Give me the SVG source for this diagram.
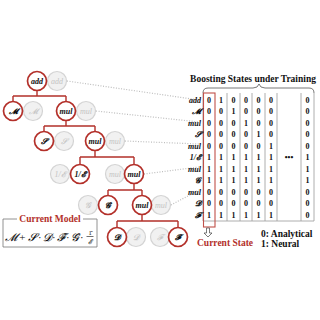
<svg xmlns="http://www.w3.org/2000/svg" width="320" height="320" viewBox="0 0 320 320">
<style>
.bg{fill:#fff}
.rn{fill:#fff;stroke:#b3302a;stroke-width:1.7}
.gn{fill:#f1f1f1;stroke:#d4d4d4;stroke-width:1.2}
.rt{font-family:"Liberation Serif","DejaVu Serif",serif;font-style:italic;font-weight:bold;font-size:8px;fill:#111;text-anchor:middle}
.gt{font-family:"Liberation Serif","DejaVu Serif",serif;font-style:italic;font-size:8px;fill:#c4c4c4;text-anchor:middle}
.edge{stroke:#b3302a;stroke-width:1.4;fill:none}
.dot{stroke:#bdbdbd;stroke-width:1.2;stroke-dasharray:1 1.6;fill:none}
.lbl{font-family:"Liberation Serif","DejaVu Serif",serif;font-style:italic;font-weight:bold;font-size:8px;fill:#111;text-anchor:end}
.num{font-family:"Liberation Serif","DejaVu Serif",serif;font-weight:bold;font-size:8px;fill:#111;text-anchor:middle}
.vl{stroke:#9a9a9a;stroke-width:0.8}
.ttl{font-family:"Liberation Serif","DejaVu Serif",serif;font-weight:bold;font-size:9.5px;fill:#111}
.red{fill:#b3302a}
</style>
<rect class="bg" width="320" height="320"/>
<g id="connectors">
<path class="edge" d="M37 90.5V96M13 96H66M13 96V101.5M66 96V101.5"/>
<path class="edge" d="M66 120.5V126M44 126H95M44 126V131.5M95 126V131.5"/>
<path class="edge" d="M95 150.5V157M80 157H134M80 157V164.5M134 157V164.5"/>
<path class="edge" d="M134 183.5V190M108 190H142M108 190V195.5M142 190V195.5"/>
<path class="edge" d="M142 214.5V221M117 221H178M117 221V227.5M178 221V227.5"/>
<path class="dot" d="M67 81L199 100"/>
<path class="dot" d="M96 111L199 122"/>
<path class="dot" d="M125 141L199 144"/>
<path class="dot" d="M144 174L199 167"/>
<path class="dot" d="M171 205L199 190"/>
</g>
<g id="n-add"><circle class="gn" cx="57" cy="81" r="9.5"/><text class="gt" x="57" y="83.5">add</text><circle class="rn" cx="37" cy="81" r="9.5"/><text class="rt" x="37" y="83.5">add</text></g>
<g id="n-M"><circle class="gn" cx="33" cy="111" r="9.5"/><text class="gt" x="33" y="114">𝓜</text><circle class="rn" cx="13" cy="111" r="9.5"/><text class="rt" x="13" y="114">𝓜</text></g>
<g id="n-mul1"><circle class="gn" cx="86" cy="111" r="9.5"/><text class="gt" x="86" y="113.5">mul</text><circle class="rn" cx="66" cy="111" r="9.5"/><text class="rt" x="66" y="113.5">mul</text></g>
<g id="n-S"><circle class="gn" cx="64" cy="141" r="9.5"/><text class="gt" x="64" y="144">𝓢</text><circle class="rn" cx="44" cy="141" r="9.5"/><text class="rt" x="44" y="144">𝓢</text></g>
<g id="n-mul2"><circle class="gn" cx="115" cy="141" r="9.5"/><text class="gt" x="115" y="143.5">mul</text><circle class="rn" cx="95" cy="141" r="9.5"/><text class="rt" x="95" y="143.5">mul</text></g>
<g id="n-E"><circle class="gn" cx="60" cy="174" r="9.5"/><text class="gt" x="60" y="176.5">1/𝓔</text><circle class="rn" cx="80" cy="174" r="9.5"/><text class="rt" x="80" y="176.5">1/𝓔</text></g>
<g id="n-mul3"><circle class="gn" cx="115" cy="174" r="9.5"/><text class="gt" x="115" y="176.5">mul</text><circle class="rn" cx="134" cy="174" r="9.5"/><text class="rt" x="134" y="176.5">mul</text></g>
<g id="n-G"><circle class="gn" cx="88" cy="205" r="9.5"/><text class="gt" x="88" y="208">𝓖</text><circle class="rn" cx="108" cy="205" r="9.5"/><text class="rt" x="108" y="208">𝓖̂</text></g>
<g id="n-mul4"><circle class="gn" cx="161" cy="205" r="9.5"/><text class="gt" x="161" y="207.5">mul</text><circle class="rn" cx="142" cy="205" r="9.5"/><text class="rt" x="142" y="207.5">mul</text></g>
<g id="n-D"><circle class="gn" cx="136" cy="237" r="9.5"/><text class="gt" x="136" y="240">𝓓</text><circle class="rn" cx="117" cy="237" r="9.5"/><text class="rt" x="117" y="240">𝓓</text></g>
<g id="n-F"><circle class="gn" cx="160" cy="237" r="9.5"/><text class="gt" x="160" y="240">𝓕</text><circle class="rn" cx="178" cy="237" r="9.5"/><text class="rt" x="178" y="240">𝓕̂</text></g>
<g id="current-model">
<path d="M3 219H17M83 219H97V247H3V219" fill="none" stroke="#777" stroke-width="0.8"/>
<text x="50" y="222" class="ttl red" text-anchor="middle" font-size="9.5">Current Model</text>
<text x="5" y="241" font-family="Liberation Serif,DejaVu Serif,serif" font-style="italic" font-size="11" fill="#111" textLength="78" lengthAdjust="spacing">𝓜+𝓢·𝓓·𝓕̂·𝓖̂·</text>
<text x="90" y="234.5" font-family="Liberation Serif,serif" font-size="6.5" fill="#111" text-anchor="middle">1̂</text>
<line x1="86.5" y1="236.5" x2="93.5" y2="236.5" stroke="#111" stroke-width="0.6"/>
<text x="90" y="244" font-family="Liberation Serif,serif" font-style="italic" font-size="6.5" fill="#111" text-anchor="middle">𝓔</text>
</g>
<g id="table">
<text class="ttl" x="253" y="82" text-anchor="middle">Boosting States under Training</text>
<path d="M203 93Q203 88 208 88H253Q258 88 259 84Q260 88 265 88H309Q314 88 314 93" fill="none" stroke="#555" stroke-width="0.8"/>
<line class="vl" x1="203" y1="93" x2="203" y2="221"/>
<line class="vl" x1="227" y1="93" x2="227" y2="221"/>
<line class="vl" x1="240" y1="93" x2="240" y2="221"/>
<line class="vl" x1="252" y1="93" x2="252" y2="221"/>
<line class="vl" x1="265" y1="93" x2="265" y2="221"/>
<line class="vl" x1="277" y1="93" x2="277" y2="221"/>
<line class="vl" x1="301" y1="93" x2="301" y2="221"/>
<line class="vl" x1="314" y1="93" x2="314" y2="221"/>
<line class="vl" x1="203" y1="221" x2="314" y2="221"/>
<rect x="203.5" y="93" width="11.5" height="134" fill="none" stroke="#c0504a" stroke-width="1.1"/>
<g class="lbl">
<text x="201" y="102.5">add</text><text x="201" y="114">𝓜</text><text x="201" y="125.5">mul</text><text x="201" y="137">𝓢</text><text x="201" y="148.5">mul</text><text x="201" y="160">1/𝓔</text><text x="201" y="171.5">mul</text><text x="201" y="183">𝓖</text><text x="201" y="194.5">mul</text><text x="201" y="206">𝓓</text><text x="201" y="217.5">𝓕</text>
</g>
<g class="num">
<text x="209" y="102.5">0</text><text x="221" y="102.5">1</text><text x="233.5" y="102.5">0</text><text x="246" y="102.5">0</text><text x="258.5" y="102.5">0</text><text x="271" y="102.5">0</text><text x="307.5" y="102.5">0</text>
<text x="209" y="114">0</text><text x="221" y="114">0</text><text x="233.5" y="114">1</text><text x="246" y="114">0</text><text x="258.5" y="114">0</text><text x="271" y="114">0</text><text x="307.5" y="114">0</text>
<text x="209" y="125.5">0</text><text x="221" y="125.5">0</text><text x="233.5" y="125.5">0</text><text x="246" y="125.5">1</text><text x="258.5" y="125.5">0</text><text x="271" y="125.5">0</text><text x="307.5" y="125.5">0</text>
<text x="209" y="137">0</text><text x="221" y="137">0</text><text x="233.5" y="137">0</text><text x="246" y="137">0</text><text x="258.5" y="137">1</text><text x="271" y="137">0</text><text x="307.5" y="137">0</text>
<text x="209" y="148.5">0</text><text x="221" y="148.5">0</text><text x="233.5" y="148.5">0</text><text x="246" y="148.5">0</text><text x="258.5" y="148.5">0</text><text x="271" y="148.5">1</text><text x="307.5" y="148.5">0</text>
<text x="209" y="160">1</text><text x="221" y="160">1</text><text x="233.5" y="160">1</text><text x="246" y="160">1</text><text x="258.5" y="160">1</text><text x="271" y="160">1</text><text x="289" y="160">•••</text><text x="307.5" y="160">1</text>
<text x="209" y="171.5">1</text><text x="221" y="171.5">1</text><text x="233.5" y="171.5">1</text><text x="246" y="171.5">1</text><text x="258.5" y="171.5">1</text><text x="271" y="171.5">1</text><text x="307.5" y="171.5">1</text>
<text x="209" y="183">1</text><text x="221" y="183">1</text><text x="233.5" y="183">1</text><text x="246" y="183">1</text><text x="258.5" y="183">1</text><text x="271" y="183">1</text><text x="307.5" y="183">1</text>
<text x="209" y="194.5">0</text><text x="221" y="194.5">0</text><text x="233.5" y="194.5">0</text><text x="246" y="194.5">0</text><text x="258.5" y="194.5">0</text><text x="271" y="194.5">0</text><text x="307.5" y="194.5">0</text>
<text x="209" y="206">0</text><text x="221" y="206">0</text><text x="233.5" y="206">0</text><text x="246" y="206">0</text><text x="258.5" y="206">0</text><text x="271" y="206">0</text><text x="307.5" y="206">0</text>
<text x="209" y="217.5">1</text><text x="221" y="217.5">1</text><text x="233.5" y="217.5">1</text><text x="246" y="217.5">1</text><text x="258.5" y="217.5">1</text><text x="271" y="217.5">1</text><text x="307.5" y="217.5">0</text>
</g>
<path d="M206.5 228V233H204L208 237L212 233H209.5V228Z" fill="#fff" stroke="#444" stroke-width="0.7"/>
<text class="ttl red" x="197" y="246" font-size="9.5">Current State</text>
<text class="ttl" x="261" y="237">0: Analytical</text>
<text class="ttl" x="261" y="247">1: Neural</text>
</g>
</svg>
